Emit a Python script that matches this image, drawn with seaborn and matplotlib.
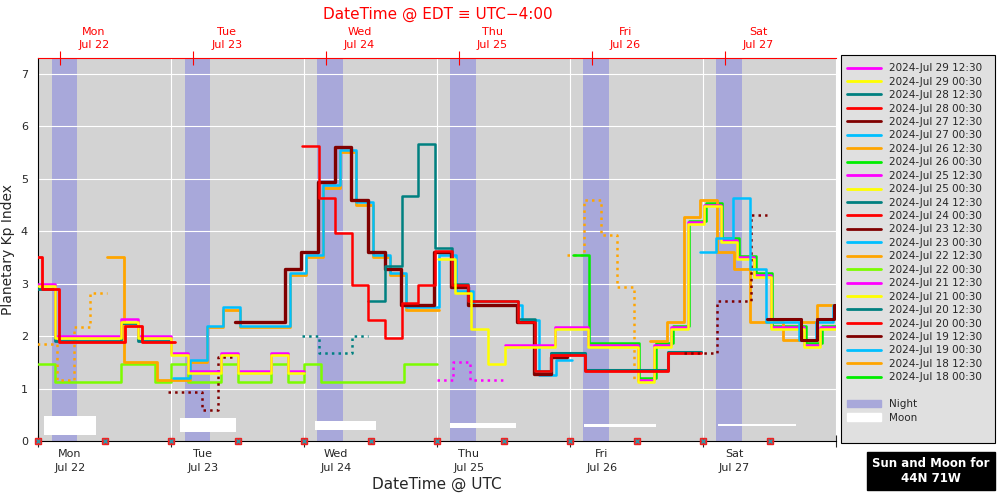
import matplotlib
matplotlib.use("Agg")
import matplotlib.pyplot as plt
import seaborn as sns
import pandas as pd
from matplotlib.lines import Line2D
from matplotlib.patches import Patch, Rectangle

# ---------------- data (hours since 2024-Jul-22 00:00 UTC, 3-hour Kp steps) ----------------
legend_labels = ["2024-Jul 29 12:30", "2024-Jul 29 00:30", "2024-Jul 28 12:30", "2024-Jul 28 00:30",
                 "2024-Jul 27 12:30", "2024-Jul 27 00:30", "2024-Jul 26 12:30", "2024-Jul 26 00:30",
                 "2024-Jul 25 12:30", "2024-Jul 25 00:30", "2024-Jul 24 12:30", "2024-Jul 24 00:30",
                 "2024-Jul 23 12:30", "2024-Jul 23 00:30", "2024-Jul 22 12:30", "2024-Jul 22 00:30",
                 "2024-Jul 21 12:30", "2024-Jul 21 00:30", "2024-Jul 20 12:30", "2024-Jul 20 00:30",
                 "2024-Jul 19 12:30", "2024-Jul 19 00:30", "2024-Jul 18 12:30", "2024-Jul 18 00:30"]
legend_colors = ["#ff00ff", "#ffff00", "#008080", "#ff0000", "#800000", "#00bfff", "#ffa500", "#00ee00",
                 "#ff00ff", "#ffff00", "#008080", "#ff0000", "#800000", "#00bfff", "#ffa500", "#7cfc00",
                 "#ff00ff", "#ffff00", "#008080", "#ff0000", "#800000", "#00bfff", "#ffa500", "#00ee00"]

mon_magenta_start = 0.0
mon_magenta_vals = [3.0, 2.0, 2.0, 2.0, 2.0, 2.33, 2.0, 2.0, 1.67, 1.33, 1.33, 1.67, 1.33, 1.33, 1.67, 1.33]
mon_yellow_start = 0.0
mon_yellow_vals = [2.96, 1.96, 1.96, 1.96, 1.96, 2.27, 1.96, 1.96, 1.63, 1.29, 1.29, 1.63, 1.29, 1.29, 1.63, 1.29]
mon_teal_start = 0.0
mon_teal_vals = [2.9, 1.9, 1.9, 1.9, 1.9, 2.25, 1.9, 1.9]
mon_red_start = -2.3
mon_red_vals = [3.5, 2.9, 1.88, 1.88, 1.88, 1.88, 2.2, 1.88, 1.88]
chart_start = 0.0
chart_vals = [1.47, 1.13, 1.13, 1.13, 1.13, 1.47, 1.47, 1.13, 1.47, 1.13, 1.13, 1.47, 1.13, 1.13, 1.47,
              1.13, 1.47, 1.13, 1.13, 1.13, 1.13, 1.13, 1.47, 1.47]
orange_dot_start = -2.6
orange_dot_vals = [1.85, 1.85, 1.17, 2.17, 2.83]
orange_start = 12.4
orange_vals = [3.5, 1.5, 1.5, 1.17, 1.17, 1.5, 2.17, 2.5, 2.17, 2.17, 2.17, 3.17, 3.5, 4.83, 5.5, 4.5,
               3.5, 3.17, 2.5, 2.5]
sky_start = 24.4
sky_vals = [1.2, 1.55, 2.2, 2.55, 2.2, 2.2, 2.2, 3.2, 3.55, 4.87, 5.55, 4.55, 3.55, 3.2, 2.55, 2.55,
            3.55, 2.85, 2.6, 2.6, 2.6, 2.3, 1.25, 1.55]
maroon_dot_start = 23.5
maroon_dot_vals = [0.93, 0.93, 0.6, 1.6]
maroon_start = 35.5
maroon_vals = [2.27, 2.27, 2.27, 3.27, 3.6, 4.93, 5.6, 4.6, 3.6, 3.27, 2.6, 2.6, 3.6, 2.93, 2.6, 2.6,
               2.6, 2.27, 1.27, 1.6]
red_start = 47.6
red_vals = [5.63, 4.63, 3.97, 2.97, 2.3, 1.97, 2.63, 2.97, 3.63, 2.97, 2.67, 2.67, 2.67, 2.27, 1.33, 1.63]
teal_dot_start = 47.6
teal_dot_vals = [2.0, 1.67, 1.67, 2.0]
teal_start = 59.6
teal_vals = [2.67, 3.33, 4.67, 5.67, 3.67, 3.0, 2.67, 2.67, 2.67, 2.33, 1.33, 1.67]
magenta_dot_start = 71.9
magenta_dot_vals = [1.17, 1.5, 1.17, 1.17]
thu_yellow_start = 72.2
thu_yellow_vals = [3.47, 2.83, 2.13, 1.47, 1.8, 1.8, 1.8, 2.13, 2.13, 1.8, 1.8, 1.8, 1.13, 1.8, 2.13,
                   4.13, 4.47, 3.8, 3.47, 3.13, 2.13, 2.13, 1.8, 2.13, 2.5]
thu_magenta_start = 84.2
thu_magenta_vals = [1.83, 1.83, 1.83, 2.17, 2.17, 1.83, 1.83, 1.83, 1.17, 1.83, 2.17, 4.17, 4.5, 3.83,
                    3.5, 3.17, 2.17, 2.17, 1.83, 2.17, 2.5]
fri_red_start = 92.6
fri_red_vals = [1.63, 1.63, 1.33, 1.33, 1.33, 1.33, 1.33, 1.67, 1.67]
fri_teal_vals = [1.67, 1.67, 1.36, 1.36, 1.36, 1.36, 1.36, 1.7, 1.7]
lime_start = 96.5
lime_vals = [3.55, 1.87, 1.87, 1.87, 1.2, 1.87, 2.2, 4.2, 4.53, 3.87, 3.53, 3.2, 2.2, 2.2, 1.87, 2.2]
fri_orange_dot_start = 95.5
fri_orange_dot_vals = [3.55, 4.6, 3.93, 2.93, 1.17]
fri_orange_start = 110.5
fri_orange_vals = [1.9, 2.27, 4.27, 4.6, 3.6, 3.27, 2.27, 2.27, 1.93, 2.27, 2.6]
sat_sky_start = 119.4
sat_sky_vals = [3.6, 3.87, 4.63, 3.27, 2.27, 2.27, 1.93, 2.27, 2.6]
sat_maroon_dot_start = 116.6
sat_maroon_dot_vals = [1.67, 1.67, 2.67, 2.67, 4.3]
sat_maroon_start = 131.6
sat_maroon_vals = [2.33, 2.33, 1.93, 2.33, 2.6]

night_starts = [2.4, 26.4, 50.4, 74.4, 98.4, 122.4]
night_length = 4.6
moon_starts = [1.0, 25.6, 49.9, 74.3, 98.5, 122.7]
moon_ends = [10.4, 35.7, 61.0, 86.2, 111.5, 136.8]
moon_heights = [0.36, 0.26, 0.17, 0.1, 0.06, 0.04]
marker_hours = [0, 12, 24, 36, 48, 60, 72, 84, 96, 108, 120, 132]
day_names = ["Mon", "Tue", "Wed", "Thu", "Fri", "Sat"]
day_dates = ["Jul 22", "Jul 23", "Jul 24", "Jul 25", "Jul 26", "Jul 27"]

series = [
    (chart_start, chart_vals, "#7cfc00", "-", 1.8),
    (orange_dot_start, orange_dot_vals, "#ffa500", ":", 1.8),
    (orange_start, orange_vals, "#ffa500", "-", 2.0),
    (sky_start, sky_vals, "#00bfff", "-", 1.8),
    (maroon_dot_start, maroon_dot_vals, "#800000", ":", 1.8),
    (maroon_start, maroon_vals, "#800000", "-", 2.4),
    (mon_teal_start, mon_teal_vals, "#008080", "-", 2.0),
    (mon_magenta_start, mon_magenta_vals, "#ff00ff", "-", 1.8),
    (mon_yellow_start, mon_yellow_vals, "#ffff00", "-", 1.8),
    (mon_red_start, mon_red_vals, "#ff0000", "-", 2.0),
    (teal_dot_start, teal_dot_vals, "#008080", ":", 1.8),
    (teal_start, teal_vals, "#008080", "-", 1.8),
    (red_start, red_vals, "#ff0000", "-", 1.8),
    (magenta_dot_start, magenta_dot_vals, "#ff00ff", ":", 1.8),
    (fri_orange_dot_start, fri_orange_dot_vals, "#ffa500", ":", 1.8),
    (lime_start, lime_vals, "#00ee00", "-", 1.8),
    (fri_orange_start, fri_orange_vals, "#ffa500", "-", 2.0),
    (thu_magenta_start, thu_magenta_vals, "#ff00ff", "-", 1.8),
    (thu_yellow_start, thu_yellow_vals, "#ffff00", "-", 1.8),
    (fri_red_start, fri_teal_vals, "#008080", "-", 2.2),
    (fri_red_start, fri_red_vals, "#ff0000", "-", 2.0),
    (sat_maroon_dot_start, sat_maroon_dot_vals, "#800000", ":", 1.8),
    (sat_sky_start, sat_sky_vals, "#00bfff", "-", 1.8),
    (sat_maroon_start, sat_maroon_vals, "#800000", "-", 2.2),
]

# ---------------- figure ----------------
sns.set_style("white")
fig = plt.figure(figsize=(10.01, 5.0), dpi=100)
ax = fig.add_axes([38.3 / 1001, 1 - 441 / 500, (836 - 38.3) / 1001, (441 - 58) / 500])
ax.set_facecolor("#d3d3d3")
ax.set_xlim(0, 144)
ax.set_ylim(0, 7.3)

for s in night_starts:
    ax.axvspan(s, s + night_length, color="#a8a8da", zorder=0.5, lw=0)
for d in range(7):
    ax.axvline(24 * d, color="white", lw=0.8, zorder=0.6)
for yv in range(1, 8):
    ax.axhline(yv, color="white", lw=0.8, zorder=0.6)

for start, vals, col, ls, lw in series:
    xs = [start + 3 * i for i in range(len(vals) + 1)]
    ys = list(vals) + [vals[-1]]
    df = pd.DataFrame({"t": xs, "kp": ys})
    sns.lineplot(data=df, x="t", y="kp", ax=ax, color=col, linestyle=ls, lw=lw,
                 drawstyle="steps-post", zorder=3, sort=False)

for s, e, h in zip(moon_starts, moon_ends, moon_heights):
    ax.add_patch(Rectangle((s, 0.3 - h / 2), e - s, h, color="white", zorder=2, lw=0))

ax.plot(marker_hours, [0] * len(marker_hours), "s", color="#ee2222", ms=5, clip_on=False, zorder=5)
ax.plot(marker_hours, [0] * len(marker_hours), "x", color="#3399aa", ms=3, mew=1, clip_on=False, zorder=6)

ax.set_xlabel("DateTime @ UTC", fontsize=11, labelpad=18)
ax.set_ylabel("Planetary Kp Index", fontsize=10)
ax.set_yticks(range(0, 8))
ax.set_xticks([24 * d for d in range(7)])
ax.set_xticklabels([""] * 7)
ax.tick_params(axis="both", direction="inout", length=8, labelsize=8)
for i in range(6):
    ax.text(5.7 + 24 * i, -0.15, day_names[i] + "\n" + day_dates[i], ha="center", va="top",
            fontsize=8, linespacing=1.5)
for sp in ["top", "right"]:
    ax.spines[sp].set_visible(False)
ax.spines["left"].set_color("black")
ax.spines["bottom"].set_color("black")

ax2 = ax.twiny()
ax2.set_xlim(0, 144)
ax2.set_xticks([4 + 24 * d for d in range(6)])
ax2.set_xticklabels([""] * 6)
ax2.tick_params(axis="x", direction="inout", length=10, color="red")
ax2.spines["top"].set_color("red")
for sp in ["left", "right", "bottom"]:
    ax2.spines[sp].set_visible(False)
for i in range(6):
    ax2.text(10 + 24 * i, 7.45, day_names[i] + "\n" + day_dates[i], ha="center", va="bottom",
             fontsize=8, color="red", linespacing=1.4)
fig.text(0.437, 0.972, "DateTime @ EDT ≡ UTC−4:00", color="red", fontsize=11, ha="center", va="center")

# legend
fig.patches.append(Rectangle((841 / 1001, 1 - 443 / 500), 154 / 1001, 388 / 500, transform=fig.transFigure,
                             facecolor="#e0e0e0", edgecolor="black", lw=0.8))
handles = [Line2D([0], [0], color=c, lw=2) for c in legend_colors]
handles += [Patch(facecolor="none", edgecolor="none"), Patch(color="#a8a8da"), Patch(color="white")]
labels = legend_labels + ["", "Night", "Moon"]
fig.legend(handles, labels, loc="upper left", bbox_to_anchor=(841 / 1001, 1 - 57 / 500), frameon=False,
           fontsize=7.5, handlelength=3.2, labelspacing=0.33, borderaxespad=0.2, handleheight=0.7)

fig.patches.append(Rectangle((867 / 1001, 1 - 490 / 500), 128 / 1001, 38 / 500, transform=fig.transFigure,
                             facecolor="black", edgecolor="black"))
fig.text(931 / 1001, 1 - 471 / 500, "Sun and Moon for\n44N 71W", color="white", fontsize=8.5,
         fontweight="bold", ha="center", va="center")

fig.savefig("out.png", dpi=100)
